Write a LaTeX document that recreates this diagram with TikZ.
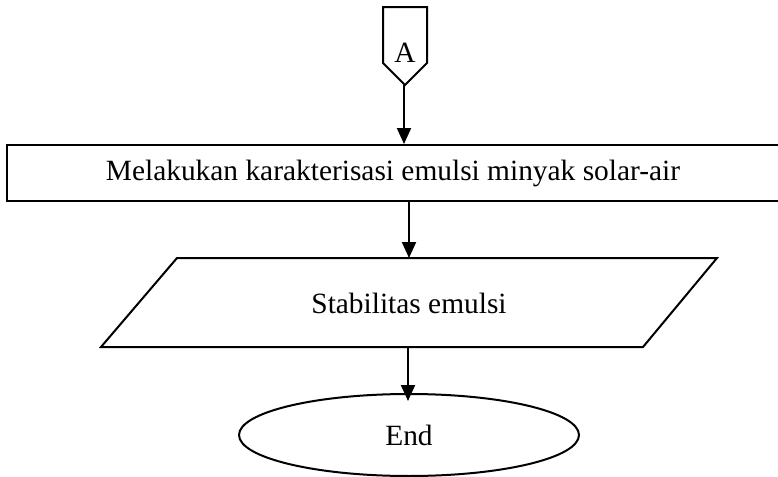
\documentclass[tikz,border=0pt]{standalone}
\usepackage{fontspec}
\setmainfont{Liberation Serif}
\usetikzlibrary{shapes.geometric,arrows.meta}

\begin{document}
\begin{tikzpicture}[x=0.5pt,y=-0.5pt,line width=1pt,
    arr/.style={-{Triangle[length=8pt,width=7pt]}},
    txt/.style={font=\fontsize{14.7}{17}\selectfont, inner sep=0pt}]
    \useasboundingbox (0,0) rectangle (778,477);
    \draw (383,7) -- (427,7) -- (427,63) -- (405,85) -- (383,63) -- cycle;
    \node[txt] (a) at (405,53) {A};
    \coordinate (atip) at (404,85);
    \node[txt, draw, rectangle, minimum width=386pt, minimum height=28pt] (proc) at (393,173) {Melakukan karakterisasi emulsi minyak solar-air};
    \draw[arr] (atip) -- (atip |- proc.north);
    \draw (101,347) -- (177,258) -- (717,258) -- (643,347) -- cycle;
    \node[txt] (io) at (409,303) {Stabilitas emulsi};
    \coordinate (iotop) at (409,258);
    \coordinate (iobot) at (408,347);
    \draw[arr] (proc.south -| iotop) -- (iotop);
    \node[txt, draw, ellipse, minimum width=170pt, minimum height=41pt] (end) at (409,435) {End};
    \coordinate (endin) at (408,401);
    \draw[arr] (iobot) -- (endin);
\end{tikzpicture}
\end{document}
